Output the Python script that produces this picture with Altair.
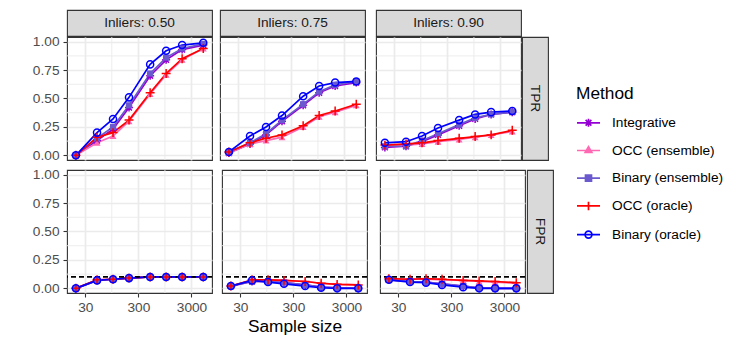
import altair as alt
import pandas as pd

# ---------------- data ----------------
sample_sizes = [20, 50, 100, 200, 500, 1000, 2000, 5000]
methods = ["Integrative", "OCC (ensemble)", "Binary (ensemble)", "OCC (oracle)", "Binary (oracle)"]
method_colors = ["#9400D3", "#FF69B4", "#6A5ACD", "#FF0000", "#0000FF"]
inlier_labels = ["Inliers: 0.50", "Inliers: 0.75", "Inliers: 0.90"]
metric_labels = ["TPR", "FPR"]
x_breaks = [30, 300, 3000]
x_minor_breaks = [94.87, 948.7]
y_breaks = [0.0, 0.25, 0.5, 0.75, 1.0]
y_minor_breaks = [0.125, 0.375, 0.625, 0.875]
fpr_nominal = [0.1]

tpr_050 = {
    "Integrative":       [0.00, 0.13, 0.23, 0.42, 0.70, 0.84, 0.93, 0.97],
    "OCC (ensemble)":    [0.00, 0.11, 0.17, 0.30, 0.54, 0.71, 0.84, 0.94],
    "Binary (ensemble)": [0.00, 0.15, 0.25, 0.44, 0.72, 0.86, 0.94, 0.98],
    "OCC (oracle)":      [0.00, 0.16, 0.20, 0.31, 0.55, 0.72, 0.85, 0.94],
    "Binary (oracle)":   [0.00, 0.20, 0.32, 0.51, 0.80, 0.92, 0.97, 0.99],
}
tpr_075 = {
    "Integrative":       [0.02, 0.10, 0.18, 0.30, 0.44, 0.55, 0.61, 0.64],
    "OCC (ensemble)":    [0.02, 0.10, 0.13, 0.16, 0.25, 0.34, 0.38, 0.44],
    "Binary (ensemble)": [0.03, 0.11, 0.19, 0.31, 0.45, 0.56, 0.62, 0.65],
    "OCC (oracle)":      [0.03, 0.11, 0.15, 0.18, 0.26, 0.35, 0.39, 0.45],
    "Binary (oracle)":   [0.03, 0.17, 0.25, 0.35, 0.52, 0.61, 0.64, 0.65],
}
tpr_090 = {
    "Integrative":       [0.07, 0.08, 0.12, 0.18, 0.26, 0.32, 0.36, 0.38],
    "OCC (ensemble)":    [0.08, 0.09, 0.10, 0.12, 0.14, 0.16, 0.18, 0.21],
    "Binary (ensemble)": [0.08, 0.08, 0.13, 0.19, 0.27, 0.33, 0.36, 0.38],
    "OCC (oracle)":      [0.09, 0.10, 0.11, 0.13, 0.15, 0.165, 0.18, 0.22],
    "Binary (oracle)":   [0.11, 0.12, 0.17, 0.24, 0.31, 0.36, 0.38, 0.39],
}
fpr_050 = {
    "Integrative":       [0.00, 0.07, 0.08, 0.09, 0.10, 0.10, 0.10, 0.10],
    "OCC (ensemble)":    [0.00, 0.075, 0.08, 0.09, 0.10, 0.10, 0.10, 0.10],
    "Binary (ensemble)": [0.00, 0.07, 0.08, 0.09, 0.10, 0.10, 0.10, 0.10],
    "OCC (oracle)":      [0.00, 0.075, 0.08, 0.09, 0.10, 0.10, 0.10, 0.10],
    "Binary (oracle)":   [0.00, 0.07, 0.08, 0.09, 0.10, 0.10, 0.10, 0.10],
}
fpr_075 = {
    "Integrative":       [0.02, 0.06, 0.06, 0.05, 0.03, 0.01, 0.005, 0.00],
    "OCC (ensemble)":    [0.02, 0.07, 0.075, 0.07, 0.06, 0.045, 0.035, 0.03],
    "Binary (ensemble)": [0.02, 0.06, 0.06, 0.05, 0.03, 0.01, 0.005, 0.00],
    "OCC (oracle)":      [0.02, 0.075, 0.075, 0.07, 0.06, 0.045, 0.035, 0.03],
    "Binary (oracle)":   [0.02, 0.07, 0.055, 0.04, 0.02, 0.005, 0.00, 0.00],
}
fpr_090 = {
    "Integrative":       [0.075, 0.06, 0.055, 0.04, 0.02, 0.005, 0.00, 0.00],
    "OCC (ensemble)":    [0.08, 0.08, 0.08, 0.075, 0.07, 0.06, 0.055, 0.045],
    "Binary (ensemble)": [0.075, 0.06, 0.055, 0.04, 0.02, 0.005, 0.00, 0.00],
    "OCC (oracle)":      [0.085, 0.08, 0.085, 0.08, 0.07, 0.065, 0.06, 0.05],
    "Binary (oracle)":   [0.075, 0.055, 0.05, 0.03, 0.01, 0.00, 0.00, 0.00],
}

panel_tables = {
    ("TPR", 0): tpr_050, ("TPR", 1): tpr_075, ("TPR", 2): tpr_090,
    ("FPR", 0): fpr_050, ("FPR", 1): fpr_075, ("FPR", 2): fpr_090,
}

rows = []
for (metric, ci), table in panel_tables.items():
    for m in methods:
        for n, v in zip(sample_sizes, table[m]):
            rows.append({"metric": metric, "inliers": inlier_labels[ci], "method": m, "n": n, "v": v})
df = pd.DataFrame(rows)

# ---------------- style ----------------
FONT = "Liberation Sans"
GRID = "#EBEBEB"
BORDER = "#333333"
PW, PH = 145, 123
X_DOMAIN = [13.6, 7300]
Y_DOMAIN = [-0.041, 1.041]

ASTERISK = "M-1,0L1,0M0,-1L0,1M-0.72,-0.72L0.72,0.72M-0.72,0.72L0.72,-0.72"
PLUS = "M-1,0L1,0M0,-1L0,1"
point_style = {
    "Integrative": dict(shape=ASTERISK, filled=False, size=64),
    "OCC (ensemble)": dict(shape="triangle-up", filled=True, size=48),
    "Binary (ensemble)": dict(shape="square", filled=True, size=38),
    "OCC (oracle)": dict(shape=PLUS, filled=False, size=80),
    "Binary (oracle)": dict(shape="circle", filled=False, size=50),
}

legend_paths = [
    "M-1,0L1,0M0,-0.35L0,0.35M-0.25,-0.25L0.25,0.25M-0.25,0.25L0.25,-0.25",
    "M-1,0L1,0M0,-0.33L0.29,0.17L-0.29,0.17ZM0,-0.2L0.17,0.1L-0.17,0.1ZM0,-0.08L0.07,0.04L-0.07,0.04Z",
    "M-1,0L1,0M-0.26,-0.26L0.26,-0.26L0.26,0.26L-0.26,0.26ZM-0.13,-0.13L0.13,-0.13L0.13,0.13L-0.13,0.13Z",
    "M-1,0L1,0M0,-0.37L0,0.37",
    "M-1,0L1,0M-0.3,0A0.3,0.3 0 1,0 0.3,0A0.3,0.3 0 1,0 -0.3,0",
]


def panel(metric, ci, with_legend=False):
    sub = df[(df.metric == metric) & (df.inliers == inlier_labels[ci])]
    bottom = metric == "FPR"
    left = ci == 0
    xax_kw = dict(values=x_breaks, format="d", grid=True, gridColor=GRID, gridWidth=1.7,
                  domain=False, ticks=bottom, labels=bottom, tickSize=4, labelPadding=3)
    if bottom and ci == 1:
        xax_kw["title"] = "Sample size"
    else:
        xax_kw["title"] = None
    yax = alt.Axis(values=y_breaks, format=".2f", grid=True, gridColor=GRID, gridWidth=1.7,
                   domain=False, ticks=left, labels=left, tickSize=4, labelPadding=4, title=None)
    X = alt.X("n:Q", scale=alt.Scale(type="log", domain=X_DOMAIN, nice=False), axis=alt.Axis(**xax_kw))
    Y = alt.Y("v:Q", scale=alt.Scale(domain=Y_DOMAIN, nice=False, zero=False), axis=yax)

    layers = [
        alt.Chart(pd.DataFrame({"n": x_minor_breaks})).mark_rule(color=GRID, strokeWidth=0.9).encode(x=X),
        alt.Chart(pd.DataFrame({"v": y_minor_breaks})).mark_rule(color=GRID, strokeWidth=0.9).encode(y=Y),
    ]
    for m, c in zip(methods, method_colors):
        layers.append(
            alt.Chart(sub[sub.method == m]).mark_line(color=c, strokeWidth=1.7).encode(x=X, y=Y)
        )
    if metric == "FPR":
        layers.append(
            alt.Chart(pd.DataFrame({"v": fpr_nominal}))
            .mark_rule(color="black", strokeDash=[5, 3], strokeWidth=1.7)
            .encode(y=Y)
        )
    for m, c in zip(methods, method_colors):
        st = point_style[m]
        layers.append(
            alt.Chart(sub[sub.method == m])
            .mark_point(shape=st["shape"], filled=st["filled"], size=st["size"], color=c,
                        strokeWidth=1.5, opacity=1)
            .encode(x=X, y=Y)
        )
    if with_legend:
        layers.append(
            alt.Chart(sub).transform_filter("false")
            .mark_point(filled=False, strokeWidth=1.7, opacity=1)
            .encode(
                x=X, y=Y,
                color=alt.Color("method:N", scale=alt.Scale(domain=methods, range=method_colors),
                                legend=alt.Legend(title="Method")),
                shape=alt.Shape("method:N", scale=alt.Scale(domain=methods, range=legend_paths),
                                legend=alt.Legend(title="Method")),
            )
        )
    return alt.layer(*layers).properties(
        width=PW, height=PH,
        view=alt.ViewBackground(fill="white", stroke=BORDER, strokeWidth=1.1),
    )


def top_strip(label):
    return (
        alt.Chart(pd.DataFrame({"label": [label]}))
        .mark_text(font=FONT, fontSize=13.7, color="#1A1A1A")
        .encode(text="label:N")
        .properties(width=PW, height=26,
                    view=alt.ViewBackground(fill="#D9D9D9", stroke=BORDER, strokeWidth=1.1))
    )


def side_strip(label):
    return (
        alt.Chart(pd.DataFrame({"label": [label]}))
        .mark_text(font=FONT, fontSize=13.7, color="#1A1A1A", angle=90)
        .encode(text="label:N")
        .properties(width=26, height=PH,
                    view=alt.ViewBackground(fill="#D9D9D9", stroke=BORDER, strokeWidth=1.1))
    )


def row_of(first, second, third, side=None):
    last = third if side is None else alt.hconcat(third, side, spacing=-2)
    return alt.hconcat(first, alt.hconcat(second, last, spacing=9), spacing=6)


strip_row = row_of(*[top_strip(l) for l in inlier_labels])
tpr_row = row_of(panel("TPR", 0, with_legend=True), panel("TPR", 1), panel("TPR", 2), side_strip("TPR"))
fpr_row = row_of(panel("FPR", 0), panel("FPR", 1), panel("FPR", 2), side_strip("FPR"))
top_block = alt.vconcat(strip_row, tpr_row, spacing=-3)

chart = (
    alt.vconcat(top_block, fpr_row, spacing=3)
    .properties(padding={"left": 23, "top": 1, "right": 0, "bottom": 0}, background="white")
    .configure_axis(
        labelFont=FONT, titleFont=FONT, labelFontSize=13.7, labelColor="#4D4D4D",
        tickColor=BORDER, tickWidth=1.1, titleFontSize=17.3, titleFontWeight="normal",
        titleColor="black", titlePadding=4,
    )
    .configure_legend(
        orient="none", legendX=509, legendY=75, padding=0,
        titleFont=FONT, titleFontSize=17.3, titleFontWeight="normal", titleColor="black",
        titlePadding=8, labelFont=FONT, labelFontSize=13.7, labelColor="black",
        labelOffset=11, symbolSize=529, symbolStrokeWidth=1.7, rowPadding=7.7,
    )
)

chart.save("out.html", embed_options={"renderer": "svg", "actions": False})
